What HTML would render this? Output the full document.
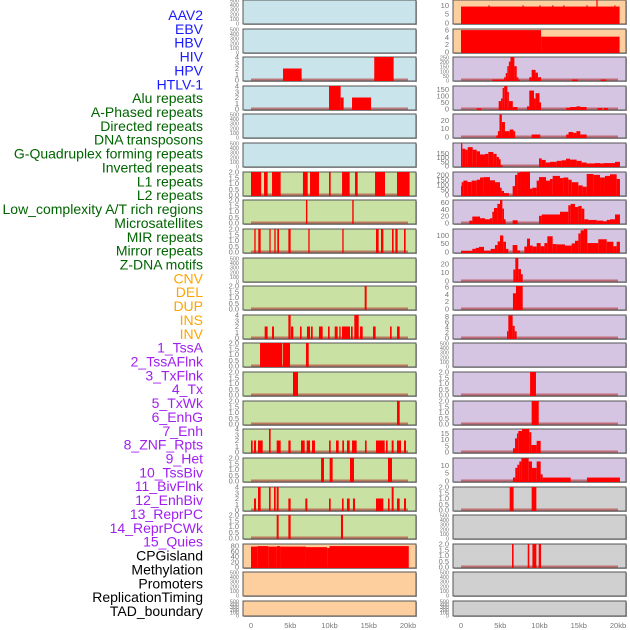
<!DOCTYPE html>
<html><head><meta charset="utf-8"><style>
html,body{margin:0;padding:0;background:#fff;width:630px;height:630px;overflow:hidden}
svg{display:block}
</style></head><body>
<svg id="chart" width="630" height="630" xmlns="http://www.w3.org/2000/svg"></svg>
<script>
const featureLabels=["AAV2","EBV","HBV","HIV","HPV","HTLV-1","Alu repeats","A-Phased repeats","Directed repeats","DNA transposons","G-Quadruplex forming repeats","Inverted repeats","L1 repeats","L2 repeats","Low_complexity A/T rich regions","Microsatellites","MIR repeats","Mirror repeats","Z-DNA motifs","CNV","DEL","DUP","INS","INV","1_TssA","2_TssAFlnk","3_TxFlnk","4_Tx","5_TxWk","6_EnhG","7_Enh","8_ZNF_Rpts","9_Het","10_TssBiv","11_BivFlnk","12_EnhBiv","13_ReprPC","14_ReprPCWk","15_Quies","CPGisland","Methylation","Promoters","ReplicationTiming","TAD_boundary"];
const labelColors=["#1a1aff","#1a1aff","#1a1aff","#1a1aff","#1a1aff","#1a1aff","#006400","#006400","#006400","#006400","#006400","#006400","#006400","#006400","#006400","#006400","#006400","#006400","#006400","#ffa500","#ffa500","#ffa500","#ffa500","#ffa500","#a020f0","#a020f0","#a020f0","#a020f0","#a020f0","#a020f0","#a020f0","#a020f0","#a020f0","#a020f0","#a020f0","#a020f0","#a020f0","#a020f0","#a020f0","#000","#000","#000","#000","#000"];
const xTicks=[0,5,10,15,20];
const xTickLabels=["0","5kb","10kb","15kb","20kb"];
const T500=[0,100,200,300,400,500],T4=[0,1,2,3,4],T2=[0,0.5,1,1.5,2];
const leftBg=["#c9e4eb","#c9e4eb","#c9e4eb","#c9e4eb","#c9e4eb","#c9e4eb","#c9e2a4","#c9e2a4","#c9e2a4","#c9e2a4","#c9e2a4","#c9e2a4","#c9e2a4","#c9e2a4","#c9e2a4","#c9e2a4","#c9e2a4","#c9e2a4","#c9e2a4","#fecf9e","#fecf9e","#fecf9e"];
const rightBg=["#fecf9e","#fecf9e","#d5c5e2","#d5c5e2","#d5c5e2","#d5c5e2","#d5c5e2","#d5c5e2","#d5c5e2","#d5c5e2","#d5c5e2","#d5c5e2","#d5c5e2","#d5c5e2","#d5c5e2","#d5c5e2","#d5c5e2","#d0d0d0","#d0d0d0","#d0d0d0","#d0d0d0","#d0d0d0"];
const leftMax=[500,500,4,4,500,500,2,2,2,500,2,4,2,2,2,4,2,4,2,88,500,500];
const rightMax=[13,6.3,250,175,27.7,277,230,67.5,139,27,6.3,8.5,500,2,2,18.6,14.7,2,500,2,500,500];
const leftTicks=[T500,T500,T4,T4,T500,T500,T2,T2,T2,T500,T2,T4,T2,T2,T2,T4,T2,T4,T2,[0,20,40,60,80],T500,T500];
const rightTicks=[[0,5,10],[0,2,4,6],[0,50,100,150,200,250],[0,50,100,150],[0,10,20],[0,50,100,150],[0,50,100,150,200],[0,20,40,60],[0,50,100],[0,10,20],[0,2,4,6],[0,2,4,6,8],T500,T2,T2,[0,5,10,15],[0,5,10],T2,T500,T2,T500,T500];
const leftBars=[
[],[],
[[4.08,6.45,2],[15.7,18.17,4]],
[[9.94,11.42,4],[11.42,11.8,2],[12.87,15.29,2]],
[],[],
[[0,1.3,2],[1.66,2.12,2],[2.68,3.78,2],[6.62,7.22,2],[7.52,8.66,2],[9.94,10.15,2],[11.6,12.57,2],[13.25,13.59,2],[15.8,17.07,2],[18.6,20.2,2]],
[[7.0,7.18,2],[12.9,13.08,2]],
[[0.42,0.59,2],[0.93,1.23,2],[2.34,2.5,2],[2.97,3.14,2],[3.35,3.57,2],[4.76,5.05,2],[7.3,7.47,2],[11.63,11.8,2],[15.92,16.26,2],[16.56,16.86,2],[17.96,18.17,2],[18.39,18.68,2],[19.49,19.7,2]],
[],
[[14.48,14.73,2]],
[[1.74,2.12,2],[2.68,2.93,2],[4.76,5.05,4],[5.1,5.39,2],[6.24,6.45,2],[7.13,7.52,2],[7.64,7.86,2],[8.66,9.13,2],[9.81,10.02,2],[10.66,11.04,2],[11.25,11.42,2],[11.59,12.61,2],[12.74,12.95,2],[13.16,13.72,4],[13.89,14.23,2],[15.54,15.88,2],[17.71,17.92,2],[18.6,18.94,2]],
[[1.15,3.99,2],[4.08,4.97,2],[7.0,7.35,2]],
[[5.35,5.99,2]],
[[18.6,18.94,2]],
[[0,0.21,2],[0.38,0.64,2],[0.89,1.49,2],[2.29,2.5,4],[3.27,3.78,2],[4.76,5.05,2],[6.37,6.84,2],[7.09,7.52,2],[7.77,8.15,2],[9.94,10.15,2],[10.83,11.17,2],[11.63,11.85,2],[12.23,12.57,2],[12.87,13.46,2],[14.52,14.73,2],[15.92,17.03,2],[17.2,17.41,2],[17.92,18.17,2],[18.6,19.11,2],[19.49,19.75,2]],
[[8.92,9.3,2],[10.02,10.4,2],[12.61,13.12,2],[17.45,17.96,2]],
[[0.38,0.64,2],[0.89,1.23,4],[2.29,2.5,4],[2.93,3.14,4],[3.27,3.52,4],[4.76,5.05,2],[6.92,7.18,2],[9.94,10.15,2],[11.59,11.8,2],[12.23,12.57,2],[12.99,13.25,2],[15.92,16.86,2],[17.45,17.66,2],[17.92,18.17,4],[18.6,18.94,2],[19.49,19.75,2]],
[[3.27,3.52,2],[4.76,5.05,2],[11.46,11.72,2]],
[[0,0.8,78],[0.8,2.2,80],[2.2,3.3,78],[3.3,3.7,80],[3.7,7.0,78],[7.0,9.7,76],[9.7,10.0,73],[10.0,20.1,80]],
[],[]
];
const rightBars=[
[[0,20.2,9.3],[3.5,3.65,10],[7.83,7.98,10],[10.0,10.15,10],[11.63,11.78,10],[13.03,13.18,10],[15.98,16.13,10],[17.25,17.4,13],[19.53,19.68,10]],
[[0,10.2,6],[10.2,20.2,4.2]],
[[4.0,5.5,5],[5.5,5.7,30],[5.7,5.9,75],[5.9,6.1,150],[6.1,6.3,200],[6.3,6.8,250],[6.8,7.1,150],[7.1,7.3,30],[7.3,7.5,5],[8.7,9.0,30],[9.0,9.5,110],[9.5,9.8,80],[9.8,10.2,30],[14.1,14.9,5],[17.8,18.5,5]],
[[2.0,2.6,5],[4.8,5.1,60],[5.1,5.3,80],[5.3,5.5,160],[5.5,5.9,175],[5.9,6.1,130],[6.1,6.6,60],[6.6,7.2,15],[8.4,8.7,20],[8.7,9.3,140],[9.3,9.5,80],[9.5,10.0,120],[10.0,10.2,50],[13.4,13.9,10],[13.9,14.7,15],[14.7,15.2,20],[15.2,16.0,15],[17.4,18.0,8],[18.2,18.7,8]],
[[4.5,4.7,2],[4.7,4.9,7],[4.9,5.2,27],[5.2,5.6,18],[5.6,6.2,7],[6.2,6.7,9],[6.7,6.9,7],[9.0,10.1,3],[13.4,13.7,3],[13.7,14.3,6],[14.3,14.7,5],[14.7,15.2,7],[15.2,16.0,3]],
[[0,0.17,273],[0.17,0.55,208],[0.55,0.85,196],[0.85,1.49,227],[1.49,2.0,196],[2.0,2.42,177],[2.42,3.06,139],[3.06,3.48,146],[3.48,4.12,169],[4.12,4.54,146],[4.54,4.84,108],[4.84,5.05,81],[5.05,5.3,8],[9.94,10.28,92],[10.28,10.79,73],[10.79,11.34,42],[11.34,12.19,50],[12.19,12.82,62],[12.82,13.38,69],[13.38,13.89,88],[13.89,14.73,77],[14.73,15.37,62],[15.37,16.01,42],[16.01,17.07,31],[17.07,17.71,35],[17.71,18.13,31],[18.13,19.62,35],[19.62,20.25,50]],
[[0,0.08,89],[0.08,0.3,128],[0.3,0.81,144],[0.81,1.36,131],[1.36,2.0,144],[2.0,2.42,153],[2.42,2.85,175],[2.85,3.69,179],[3.69,4.33,147],[4.33,4.97,128],[4.97,5.18,73],[5.18,5.48,41],[5.48,6.11,19],[6.58,6.88,89],[6.88,7.18,201],[7.18,7.52,223],[7.52,8.79,233],[8.79,9.09,64],[9.09,9.64,73],[9.64,9.94,144],[9.94,10.83,179],[10.83,11.34,144],[11.34,11.68,160],[11.68,12.61,191],[12.61,13.04,169],[13.04,13.67,175],[13.67,14.1,153],[14.1,14.95,128],[14.95,15.5,96],[15.5,16.01,83],[16.01,16.86,210],[16.86,17.71,201],[17.71,18.34,175],[18.34,18.98,191],[18.98,19.83,207],[19.83,20.25,160]],
[[1.06,1.44,7],[1.44,2.42,19],[2.42,3.06,14],[3.06,3.69,11],[3.69,3.99,14],[3.99,4.2,33],[4.2,4.63,44],[4.63,4.97,56],[4.97,5.27,67],[5.27,5.48,42],[5.48,5.69,11],[6.58,7.22,8],[9.94,10.28,21],[10.28,12.61,25],[12.61,13.67,33],[13.67,13.97,52],[13.97,14.52,56],[14.52,14.95,47],[14.95,15.37,50],[15.37,15.71,42],[15.71,16.22,11],[16.22,17.28,9],[17.28,18.13,7],[18.13,18.56,5],[18.56,18.98,9],[18.98,19.62,11],[19.62,20.25,25]],
[[0,1.44,6],[1.44,1.87,19],[1.87,2.29,25],[2.29,2.93,31],[2.93,3.78,8],[3.78,4.33,19],[4.33,4.67,42],[4.67,4.97,64],[4.97,5.39,100],[5.39,5.73,62],[5.73,6.03,19],[6.58,7.18,42],[7.18,7.52,10],[8.07,8.41,33],[8.41,8.79,81],[8.79,9.13,39],[9.13,9.64,33],[9.64,10.15,54],[10.15,10.62,35],[10.62,11.0,54],[11.0,11.68,95],[11.68,12.19,48],[12.19,13.25,46],[13.25,14.1,39],[14.1,14.52,52],[14.52,14.95,68],[14.95,15.24,112],[15.24,15.67,131],[15.67,16.09,139],[16.09,17.49,54],[17.49,18.56,77],[18.56,19.41,62],[19.41,19.83,35],[19.83,20.25,62]],
[[6.67,6.92,13.5],[6.92,7.3,27],[7.3,7.64,14],[7.64,7.86,8]],
[[6.62,7.0,4.3],[7.0,7.86,6.3]],
[[5.86,6.03,2.5],[6.03,6.58,8.3],[6.58,6.84,4.5],[6.84,7.09,2.5]],
[],
[[8.8,9.55,2]],
[[9.0,9.9,2]],
[[6.62,6.88,3],[6.88,7.13,11],[7.13,7.3,15],[7.3,7.77,17],[7.77,8.7,18.6],[8.7,8.96,16],[8.96,9.64,5.7],[9.64,10.15,9]],
[[6.62,6.92,2.2],[6.92,7.18,8.4],[7.18,7.43,10.4],[7.43,7.69,12.5],[7.69,8.62,14.5],[8.62,9.04,12.5],[9.04,9.64,8.4],[9.64,10.15,12.5],[10.15,10.4,4.3],[10.4,13.97,2.2],[16.05,20.25,2.2]],
[[6.2,6.7,2],[9.0,9.6,2]],
[],
[[6.5,6.7,2],[8.5,8.7,2],[9.1,9.6,2],[9.9,10.2,2]],
[],[]
];

const NS="http://www.w3.org/2000/svg";
const svg=document.getElementById('chart');
function mk(tag,attrs,parent){const e=document.createElementNS(NS,tag);for(const k in attrs)e.setAttribute(k,attrs[k]);(parent||svg).appendChild(e);return e;}
const cols=[{x0:243,x1:416,z:251,bg:leftBg,max:leftMax,ticks:leftTicks,bars:leftBars,name:'left'},{x0:453,x1:626,z:461,bg:rightBg,max:rightMax,ticks:rightTicks,bars:rightBars,name:'right'}];
const kbPx=7.85;
featureLabels.forEach((t,i)=>{
  const tx=mk('text',{x:203,y:20+i*13.86,'text-anchor':'end','font-family':'Liberation Sans, sans-serif','font-size':14,fill:labelColors[i]});
  
  
  tx.textContent=t;
});
cols.forEach(c=>{
  const xs=v=>c.z+v*kbPx;
  for(let r=0;r<22;r++){
    const top=Math.round(r*28.62), h=(r===21?15:24), bot=top+h;
    const g=mk('g',{});
    
    
    mk('rect',{x:c.x0+1,y:top+1,width:c.x1-c.x0,height:h,fill:'#aaa'},g);
    const bg=mk('rect',{x:c.x0,y:top,width:c.x1-c.x0,height:h,fill:c.bg[r],stroke:'#555','stroke-width':1},g);
    
    
    const ys=v=>bot-1-(v/c.max[r])*(h-1);
    if(c.bars[r].length){
      mk('rect',{x:xs(0),y:bot-2.5,width:xs(20)-xs(0),height:2,fill:'#b02020','opacity':0.55},g);
    }
    c.bars[r].forEach(b=>{
      const rc=mk('rect',{x:xs(b[0]),y:ys(b[2]),width:Math.max(xs(b[1])-xs(b[0]),1),height:bot-ys(b[2]),fill:'#ff0000'},g);
      
      
    });
    const tk=c.ticks[r], dense=tk.length>5;
    tk.forEach(v=>{
      const t=mk('text',{x:c.x0-4,y:ys(v)+2.5,'text-anchor':'end','font-family':'Liberation Sans, sans-serif','font-size':dense?5.5:7.5,fill:'#777'},g);
      
      
      t.textContent=(c.max[r]===2)?v.toFixed(1):String(v);
    });
  }
  xTicks.forEach((v,i)=>{
    const t=mk('text',{x:xs(v),y:628,'text-anchor':'middle','font-family':'Liberation Sans, sans-serif','font-size':7.5,fill:'#777'});
    
    
    t.textContent=xTickLabels[i];
  });
});
</script>
</body></html>
